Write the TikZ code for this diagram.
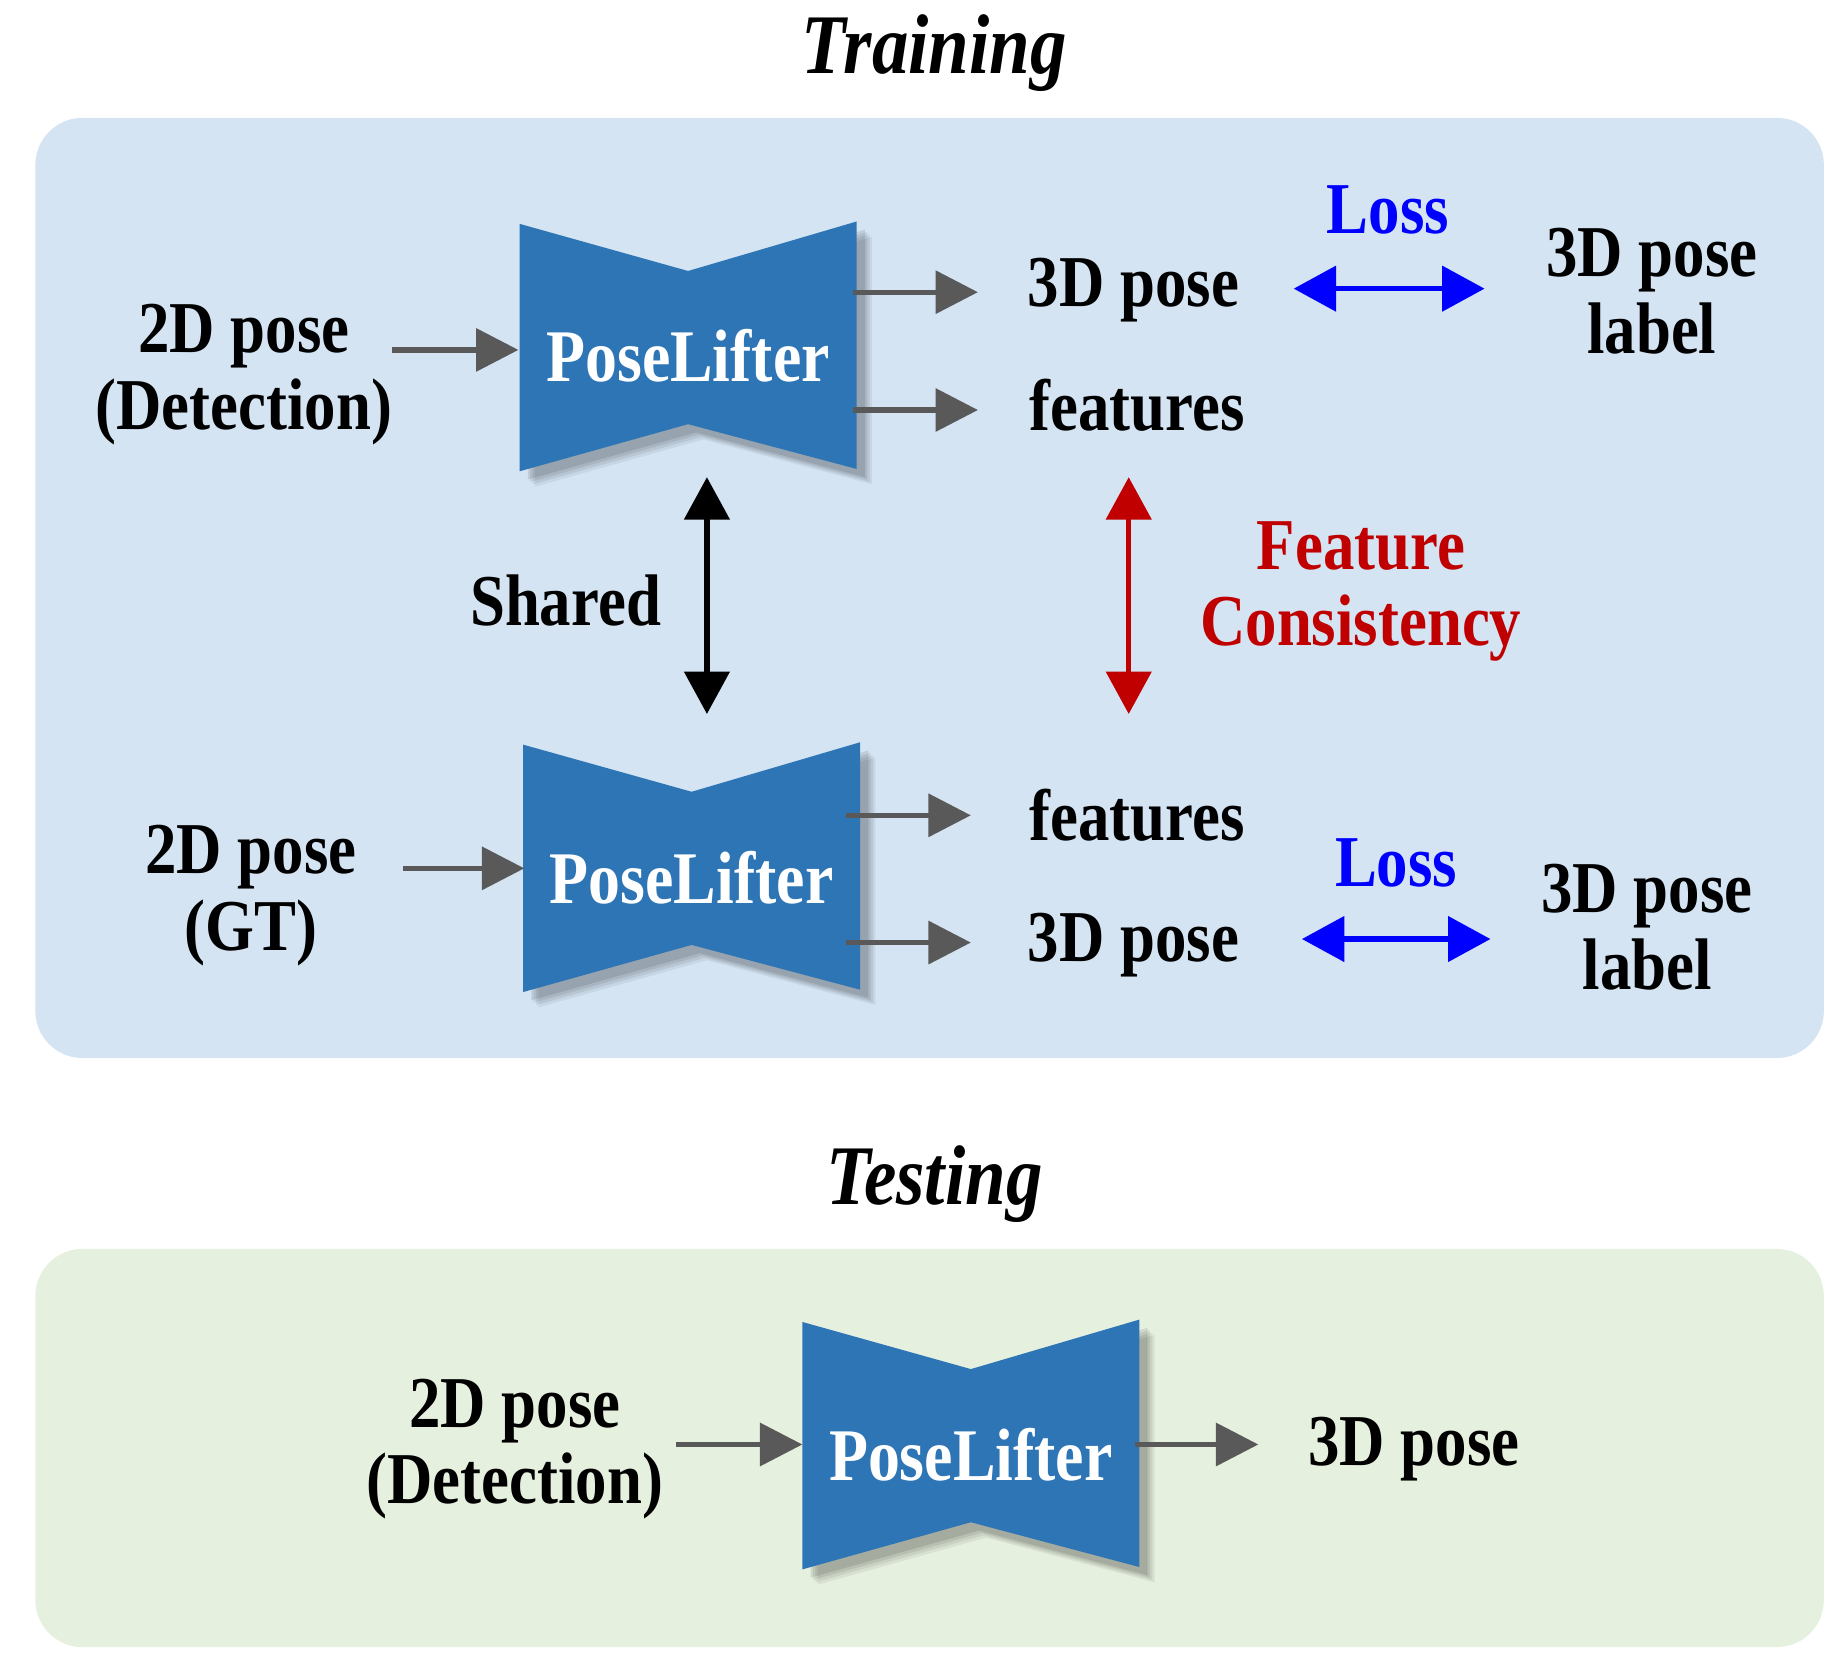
\documentclass[tikz,border=0pt]{standalone}
\usepackage{fontspec}
\setmainfont{Liberation Serif}[FakeStretch=0.86]
\usetikzlibrary{arrows.meta}
\definecolor{bgblue}{HTML}{D4E4F3}
\definecolor{bggreen}{HTML}{E6F0DF}
\definecolor{netblue}{HTML}{2E75B6}
\definecolor{garrow}{HTML}{595959}
\definecolor{fred}{HTML}{C00000}
\newcommand{\mynet}[2]{%
  \foreach \d/\o in {13/0.06,11/0.07,9/0.08,7/0.1}{%
    \fill[black,opacity=\o,shift={(#1+\d,#2+\d)}] (0,0) -- (143,40) -- (286,-2) -- (286,208) -- (143,170) -- (0,210) -- cycle;}
  \fill[netblue,shift={(#1,#2)}] (0,0) -- (143,40) -- (286,-2) -- (286,208) -- (143,170) -- (0,210) -- cycle;}
\begin{document}
\begin{tikzpicture}[x=1pt,y=-1pt,
  txt/.style={font=\fontsize{62}{65}\selectfont\bfseries,align=center,inner sep=0pt},
  ttl/.style={font=\fontsize{72}{76}\selectfont\bfseries\itshape,inner sep=0pt},
  garr/.style={draw=garrow,line width=4.5pt,-{Triangle[length=36pt,width=36pt]}},
  darr/.style={line width=4.5pt,{Triangle[length=36pt,width=38pt]}-{Triangle[length=36pt,width=38pt]}},
  pl/.style={font=\fontsize{63}{66}\selectfont\bfseries,text=white,inner sep=0pt}]
\useasboundingbox (0,0) rectangle (1560,1420);
\fill[bgblue,rounded corners=40pt] (30,100) rectangle (1548,898);
\fill[bggreen,rounded corners=40pt] (30,1060) rectangle (1548,1398);
\node[ttl] (t1) at (793,45) {Training};
\node[ttl] (t2) at (793,1005) {Testing};
% networks
\mynet{441}{190}
\mynet{444}{632}
\mynet{681}{1122}
\node[pl] (p1) at (584,302) {PoseLifter};
\node[pl] (p2) at (587,745) {PoseLifter};
\node[pl] (p3) at (824,1235) {PoseLifter};
% top
\node[txt] (in1) at (207,318) {2D pose\\(Detection)};
\coordinate (a1s) at (333,297); \coordinate (a1e) at (440,297);
\draw[garr] (a1s) -- (a1e);
\coordinate (o1s) at (724,248); \coordinate (o1e) at (830,248);
\coordinate (o2s) at (724,348); \coordinate (o2e) at (830,348);
\draw[garr] (o1s) -- (o1e);
\draw[garr] (o2s) -- (o2e);
\node[txt] (p3d1) at (962,246) {3D pose};
\node[txt] (f1) at (965,344) {features};
\node[txt,text=blue] (l1) at (1178,178) {Loss};
\coordinate (b1s) at (1098,245); \coordinate (b1e) at (1260,245);
\draw[darr,blue] (b1s) -- (b1e);
\node[txt] (lab1) at (1402,247) {3D pose\\label};
% middle
\coordinate (s1) at (600,405); \coordinate (s2) at (600,606);
\draw[darr,black] (s1) -- (s2);
\node[txt] (sh) at (480,510) {Shared};
\coordinate (r1) at (958,405); \coordinate (r2) at (958,606);
\draw[darr,fred] (r1) -- (r2);
\node[txt,text=fred] (fc) at (1155,502) {Feature\\Consistency};
% bottom
\node[txt] (in2) at (213,760) {2D pose\\(GT)};
\coordinate (a2s) at (342,737); \coordinate (a2e) at (445,737);
\draw[garr] (a2s) -- (a2e);
\coordinate (o3s) at (718,692); \coordinate (o3e) at (824,692);
\coordinate (o4s) at (718,800); \coordinate (o4e) at (824,800);
\draw[garr] (o3s) -- (o3e);
\draw[garr] (o4s) -- (o4e);
\node[txt] (f2) at (965,692) {features};
\node[txt] (p3d2) at (962,802) {3D pose};
\node[txt,text=blue] (l2) at (1185,732) {Loss};
\coordinate (b2s) at (1105,797); \coordinate (b2e) at (1265,797);
\draw[darr,blue] (b2s) -- (b2e);
\node[txt] (lab2) at (1398,787) {3D pose\\label};
% testing
\node[txt] (in3) at (437,1230) {2D pose\\(Detection)};
\coordinate (a3s) at (574,1226); \coordinate (a3e) at (681,1226);
\draw[garr] (a3s) -- (a3e);
\coordinate (a4s) at (963,1226); \coordinate (a4e) at (1068,1226);
\draw[garr] (a4s) -- (a4e);
\node[txt] (p3d3) at (1200,1230) {3D pose};
\end{tikzpicture}
\end{document}
